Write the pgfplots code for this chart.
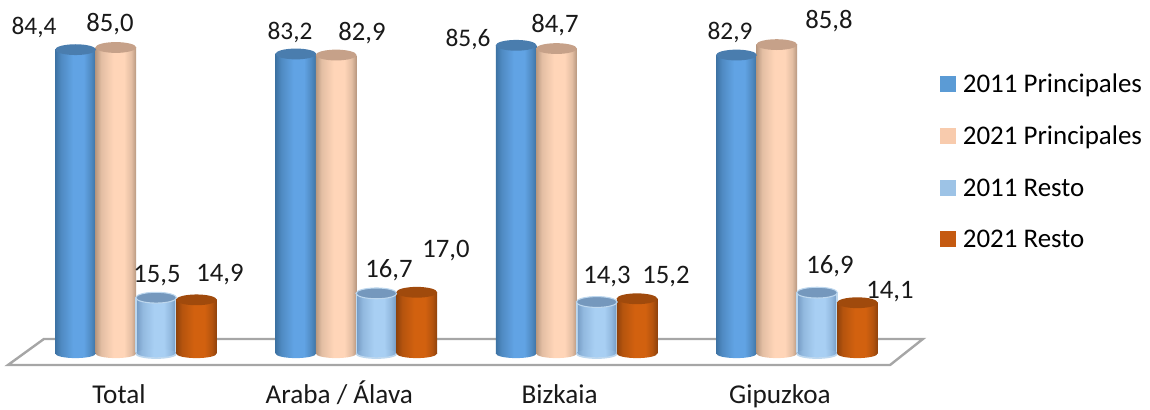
\documentclass[border=0pt]{standalone}
\usepackage{pgfplots}
\usepackage{fontspec}
\setmainfont{Carlito}
\pgfplotsset{compat=1.18}

% one drawing unit of the layout
\newlength{\px}
\setlength{\px}{0.75pt}

\definecolor{bluetop}{HTML}{4A7DAE}
\definecolor{blueside}{HTML}{3D72A3}
\definecolor{blueshade}{HTML}{4F8AC2}
\definecolor{bluemid}{HTML}{61A3E4}
\definecolor{peachtop}{HTML}{C6A189}
\definecolor{peachside}{HTML}{B89880}
\definecolor{peachshade}{HTML}{E3BEA3}
\definecolor{peachmid}{HTML}{FFD5B8}
\definecolor{skytop}{HTML}{7598BD}
\definecolor{skyside}{HTML}{7AA0C8}
\definecolor{skyshade}{HTML}{92B9DF}
\definecolor{skymid}{HTML}{A8CFF3}
\definecolor{skyedge}{HTML}{BDD7EE}
\definecolor{rusttop}{HTML}{A04A0C}
\definecolor{rustside}{HTML}{8F420C}
\definecolor{rustshade}{HTML}{B5540E}
\definecolor{rustmid}{HTML}{D2610F}

% cylinder body shading (25bp and 75bp are the body's edges), floor cap and top cap
\newcommand{\defcylinder}[6]{%
  \pgfdeclarehorizontalshading{#1body}{100bp}{%
    color(0bp)=(#2); color(25bp)=(#2); color(32bp)=(#3); color(47bp)=(#4);
    color(60bp)=(#4); color(69bp)=(#3); color(75bp)=(#2); color(100bp)=(#2)}%
  \pgfdeclareplotmark{#1base}{%
    \path[rotate=5,shading=#1body,shading angle=0,draw=none]
      (canvas cs:x=0pt,y=0pt) ellipse [x radius=20.3\px,y radius=4.6\px];}%
  \pgfdeclareplotmark{#1top}{%
    \path[rotate=6,fill=#5,draw=#6,line width=0.8pt]
      (canvas cs:x=0pt,y=0pt) ellipse [x radius=20.4\px,y radius=5.4\px];}%
}
\defcylinder{a}{blueside}{blueshade}{bluemid}{bluetop}{none}
\defcylinder{b}{peachside}{peachshade}{peachmid}{peachtop}{none}
\defcylinder{c}{skyside}{skyshade}{skymid}{skytop}{skyedge}
\defcylinder{d}{rustside}{rustshade}{rustmid}{rusttop}{none}
% pale rim under the lighter series
\pgfdeclareplotmark{crim}{%
  \draw[rotate=5,draw=skyedge,line width=1.2pt]
    (canvas cs:x=-20.3\px,y=0pt) arc [start angle=180,end angle=360,x radius=20.3\px,y radius=4.6\px];}

% one cylinder: floor cap, shaded body, top cap at position #2 and value #3
\newcommand{\cyl}[3]{%
  \addplot[forget plot,only marks,mark=#1base] coordinates {(#2,0)};
  \addplot[forget plot,ybar,bar width=40.6\px,bar shift=0pt,draw=none,
           shading=#1body,shading angle=0] coordinates {(#2,#3)};
  \addplot[forget plot,only marks,mark=#1top] coordinates {(#2,#3)};
}
% the same with the pale outline of the lighter series
\newcommand{\edgedcyl}[3]{%
  \addplot[forget plot,ybar,bar width=41.6\px,bar shift=0pt,draw=none,fill=skyedge] coordinates {(#2,#3)};
  \addplot[forget plot,only marks,mark=#1base] coordinates {(#2,0)};
  \addplot[forget plot,ybar,bar width=37.6\px,bar shift=0pt,draw=none,
           shading=#1body,shading angle=0] coordinates {(#2,#3)};
  \addplot[forget plot,only marks,mark=crim] coordinates {(#2,0)};
  \addplot[forget plot,only marks,mark=#1top,mark options={line width=1.4pt}] coordinates {(#2,#3)};
}

\newcommand{\labelfont}{\fontsize{20}{22}\selectfont}
\newcommand{\smalllabelfont}{\fontsize{19}{22}\selectfont}
% value label placed by layout position
\newcommand{\lbl}[3]{\node[font=\labelfont,inner sep=0pt,text=black!90] at (rel axis cs:#1/1150,1-#2/409) {#3};}
\newcommand{\slbl}[3]{\node[font=\smalllabelfont,inner sep=0pt,text=black!90] at (rel axis cs:#1/1150,1-#2/409) {#3};}

\pgfplotsset{
  sq/.style={legend image code/.code={%
    \fill[draw=none,##1] (0,-7.5\px) rectangle (16\px,8.5\px);
    \path (20\px,0);}},
}

\begin{document}
\begin{tikzpicture}
\begin{axis}[
  name=chart,
  scale only axis,
  width=1150\px,
  height=409\px,
  xmin=-0.6173, xmax=4.6028,
  ymin=-15.42, ymax=98.19,
  axis line style={draw=none},
  clip=false,
  ytick=\empty,
  xtick={0,1,2,3},
  xticklabels={Total,Araba / Álava,Bizkaia,Gipuzkoa},
  major tick length=0pt,
  xticklabel style={font=\fontsize{20.4}{22}\selectfont,anchor=base,inner sep=0pt,yshift=5.5\px,xshift=-17\px,text=black!90},
  legend style={
    at={(rel axis cs:940/1150,1-71/409)},anchor=north west,
    draw=none,fill=none,inner sep=0pt,outer sep=0pt,
    font=\fontsize{20.2}{22}\selectfont,
    row sep=26.4\px,
  },
  legend cell align=left,
]
% floor of the chart
\addplot[forget plot,draw=black!35,line width=1.8pt] coordinates
  {(-0.581,-3.19) (-0.418,4.03) (3.572,4.03) (3.423,-3.19)} -- cycle;

% Total
\cyl{a}{-0.2744}{84.4}
\cyl{b}{-0.0915}{85.0}
\edgedcyl{c}{0.0915}{15.5}
\cyl{d}{0.2744}{14.9}
% Araba / Álava
\cyl{a}{0.7256}{83.2}
\cyl{b}{0.9085}{82.9}
\edgedcyl{c}{1.0915}{16.7}
\cyl{d}{1.2744}{17.0}
% Bizkaia
\cyl{a}{1.7256}{85.6}
\cyl{b}{1.9085}{84.7}
\edgedcyl{c}{2.0915}{14.3}
\cyl{d}{2.2744}{15.2}
% Gipuzkoa
\cyl{a}{2.7256}{82.9}
\cyl{b}{2.9085}{85.8}
\edgedcyl{c}{3.0915}{16.9}
\cyl{d}{3.2744}{14.1}

\addlegendimage{sq,fill={rgb,255:red,91;green,155;blue,213}}
\addlegendentry{2011 Principales}
\addlegendimage{sq,fill={rgb,255:red,248;green,203;blue,173}}
\addlegendentry{2021 Principales}
\addlegendimage{sq,fill={rgb,255:red,157;green,195;blue,230}}
\addlegendentry{2011 Resto}
\addlegendimage{sq,fill={rgb,255:red,197;green,90;blue,17}}
\addlegendentry{2021 Resto}

\slbl{34}{27}{84,4}
\lbl{110}{24}{85,0}
\lbl{157}{276}{15,5}
\lbl{220}{275}{14,9}
\slbl{290}{32}{83,2}
\lbl{362}{33}{82,9}
\lbl{389}{270}{16,7}
\lbl{446}{251}{17,0}
\slbl{468}{39}{85,6}
\lbl{555}{25}{84,7}
\lbl{607}{277}{14,3}
\lbl{666}{277}{15,2}
\slbl{730}{32}{82,9}
\lbl{829}{21}{85,8}
\lbl{830}{266}{16,9}
\lbl{890}{292}{14,1}
\end{axis}
\pgfresetboundingbox
\useasboundingbox (chart.south west) rectangle (chart.north east);
\end{tikzpicture}
\end{document}
